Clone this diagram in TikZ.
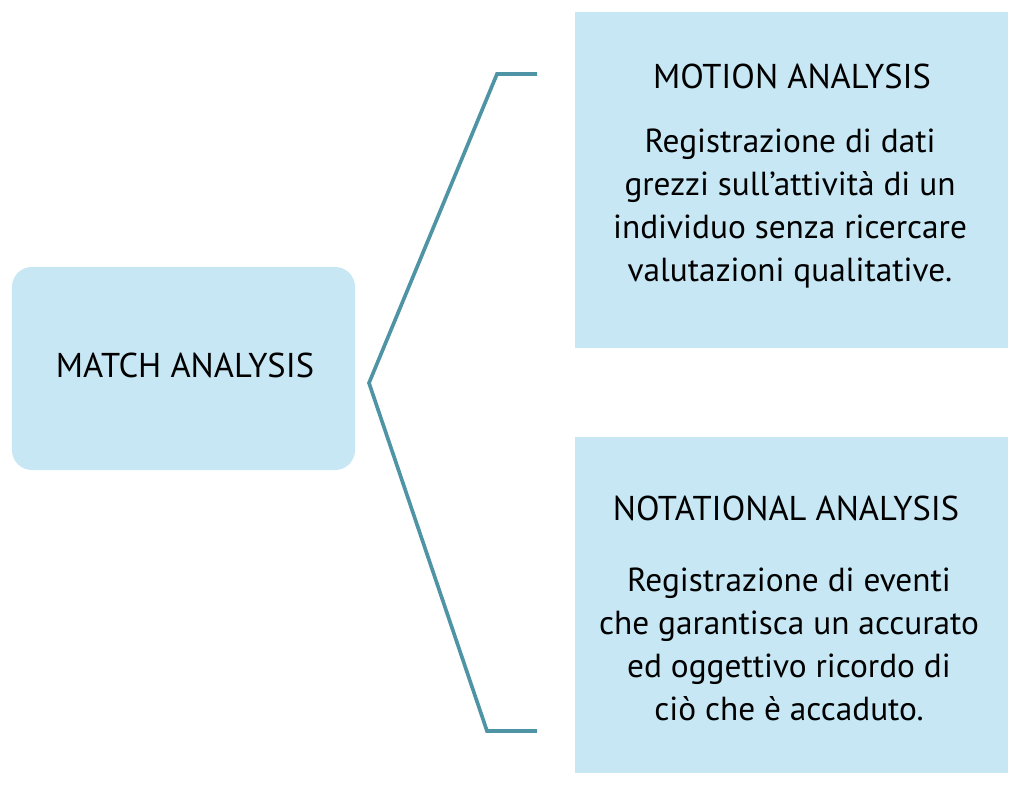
\documentclass[tikz,border=0pt]{standalone}
\usepackage{fontspec}
\setmainfont{PT Sans}
\usepackage{tikz}
\usetikzlibrary{positioning}

\definecolor{boxblue}{RGB}{198,231,243}
\definecolor{linkteal}{RGB}{78,148,165}

\tikzset{
	areabox/.style={fill=boxblue, draw=none, inner sep=0},
	boxtitle/.style={inner sep=0, align=center, font=\fontsize{24.5}{30}\selectfont},
	boxtext/.style={inner sep=0, align=center, font=\fontsize{23.7}{30.5}\selectfont},
	link/.style={draw=linkteal, line width=2.6pt, line join=miter}
}

\begin{document}
\begin{tikzpicture}[x=0.025cm, y=0.025cm]
	\useasboundingbox (0,0) rectangle (1024,787);
	% Match Analysis %
	\node (match) [areabox, rounded corners=0.5cm, minimum width=8.575cm, minimum height=5.075cm] at (183.5,418.5) {};
	\node (matchtext) [boxtitle] at (185,422) {MATCH ANALYSIS};
	% Motion Analysis %
	\node (motion) [areabox, minimum width=10.825cm, minimum height=8.4cm] at (791.5,607) {};
	\node (motiontitle) [boxtitle] at (792,711) {MOTION ANALYSIS};
	\node (motionbody) [boxtext, anchor=north] at (790,658) {Registrazione di dati\\grezzi sull’attività di un\\individuo senza ricercare\\valutazioni qualitative.};
	% Notational Analysis %
	\node (notational) [areabox, minimum width=10.825cm, minimum height=8.4cm] at (791.5,182) {};
	\node (notationaltitle) [boxtitle] at (786,279) {NOTATIONAL ANALYSIS};
	\node (notationalbody) [boxtext, anchor=north] at (789,219) {Registrazione di eventi\\che garantisca un accurato\\ed oggettivo ricordo di\\ciò che è accaduto.};
	% Connector %
	\coordinate (motionend) at (537,713);
	\coordinate (motionknee) at (497,713);
	\coordinate (matchtip) at (369,404);
	\coordinate (notationalknee) at (487,56);
	\coordinate (notationalend) at (537,56);
	\draw [link] (motionend) -- (motionknee) -- (matchtip) -- (notationalknee) -- (notationalend);
\end{tikzpicture}
\end{document}
